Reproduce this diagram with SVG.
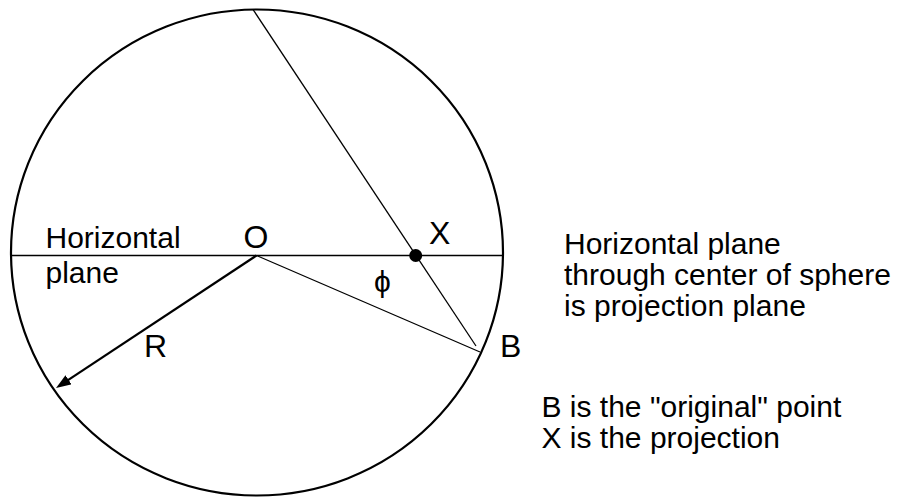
<svg xmlns="http://www.w3.org/2000/svg" width="900" height="498" viewBox="0 0 900 498">
<style>
text{font-family:"Liberation Sans",Arial,sans-serif;font-size:30px;fill:#000}
.big{font-size:32px}
.thin{stroke:#000;stroke-width:1.3;fill:none}
</style>
<defs>
<marker id="ah" markerUnits="userSpaceOnUse" markerWidth="16" markerHeight="11" refX="7" refY="5.5" orient="auto">
<path d="M0,0 L15,5.5 L0,11 z" fill="#000"/>
</marker>
</defs>
<rect width="900" height="498" fill="#fff"/>
<g id="sphere">
<ellipse cx="257" cy="252.5" rx="246" ry="243" fill="none" stroke="#000" stroke-width="2.2"/>
</g>
<g id="connectors">
<line class="thin" x1="11" y1="255.5" x2="503" y2="255.5"/>
<line class="thin" x1="253" y1="9.5" x2="476" y2="346"/>
<line class="thin" x1="256.5" y1="255.5" x2="480" y2="352"/>
<line x1="256.5" y1="255.5" x2="62.7" y2="383.6" stroke="#000" stroke-width="2.2" marker-end="url(#ah)"/>
</g>
<g id="point-X">
<circle cx="415.7" cy="255.5" r="6.5" fill="#000"/>
<text class="big" x="429" y="244.3">X</text>
</g>
<g id="point-O"><text class="big" x="243.5" y="247.7">O</text></g>
<g id="point-B"><text class="big" x="500" y="357.3">B</text></g>
<g id="label-R"><text class="big" x="144" y="357.3">R</text></g>
<g id="label-phi"><text x="374" y="292">ϕ</text></g>
<g id="label-plane">
<text x="45.5" y="247.7">Horizontal</text>
<text x="45.5" y="282.5">plane</text>
</g>
<g id="note-plane">
<text x="564" y="254.3">Horizontal plane</text>
<text x="564" y="285">through center of sphere</text>
<text x="564" y="316">is projection plane</text>
</g>
<g id="note-points">
<text x="541.5" y="416.7">B is the "original" point</text>
<text x="541.5" y="447.7">X is the projection</text>
</g>
</svg>
